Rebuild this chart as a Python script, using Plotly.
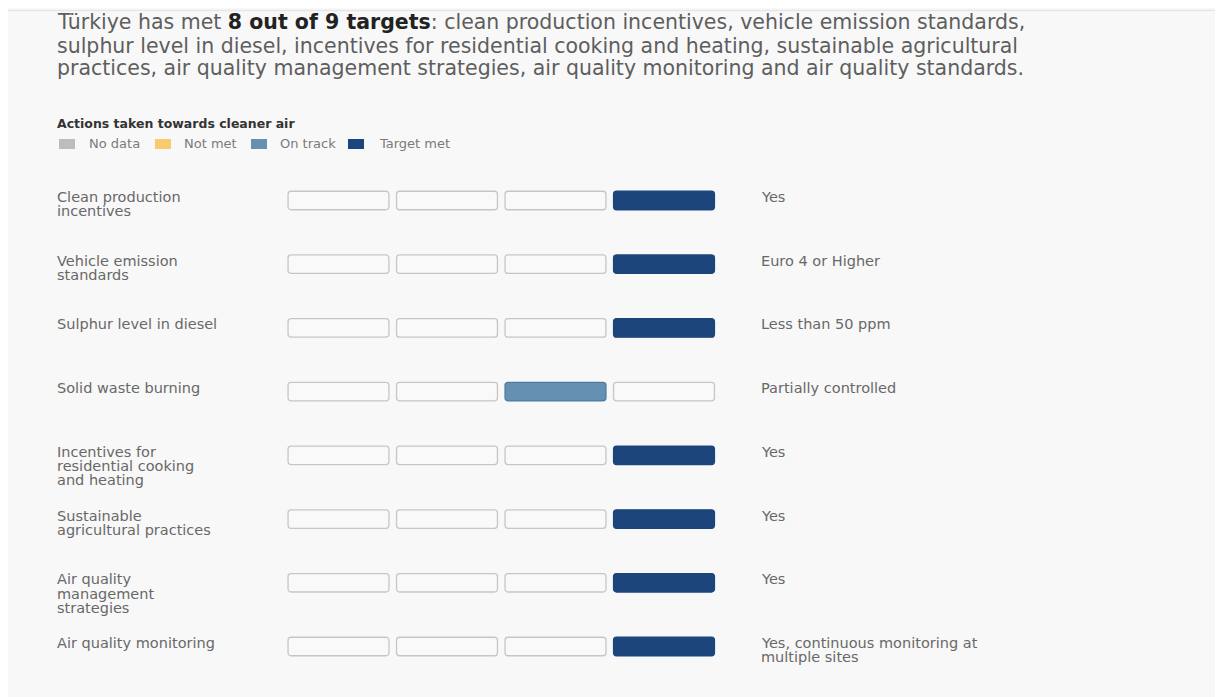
import plotly.graph_objects as go

W, H = 1230, 697

# ---------------- data ----------------
title_lines = [
    "Türkiye has met <span style='color:#222'><b>8 out of 9 targets</b></span>: clean production incentives, vehicle emission standards,",
    "sulphur level in diesel, incentives for residential cooking and heating, sustainable agricultural",
    "practices, air quality management strategies, air quality monitoring and air quality standards.",
]
chart_heading = "Actions taken towards cleaner air"
levels = ["No data", "Not met", "On track", "Target met"]
level_colors = ["#bdbdbd", "#f7cb6e", "#6590b2", "#1c467b"]
rows = [
    "Clean production incentives",
    "Vehicle emission standards",
    "Sulphur level in diesel",
    "Solid waste burning",
    "Incentives for residential cooking and heating",
    "Sustainable agricultural practices",
    "Air quality management strategies",
    "Air quality monitoring",
]
row_label_lines = [
    ["Clean production", "incentives"],
    ["Vehicle emission", "standards"],
    ["Sulphur level in diesel"],
    ["Solid waste burning"],
    ["Incentives for", "residential cooking", "and heating"],
    ["Sustainable", "agricultural practices"],
    ["Air quality", "management", "strategies"],
    ["Air quality monitoring"],
]
status = ["Target met", "Target met", "Target met", "On track",
          "Target met", "Target met", "Target met", "Target met"]
details = [
    ["Yes"],
    ["Euro 4 or Higher"],
    ["Less than 50 ppm"],
    ["Partially controlled"],
    ["Yes"],
    ["Yes"],
    ["Yes"],
    ["Yes, continuous monitoring at", "multiple sites"],
]

# ---------------- helpers ----------------
OFF = 8  # page body margin


def px(x):
    return (x - OFF) / W


def py(y):
    return 1 - (y - OFF) / H


FONT = "DejaVu Sans"
TXT = "#686868"
EMPTY_FILL = "#f9f9f9"
EMPTY_LINE = "#c6c6c6"

fig = go.Figure()

cell_w = 0.93
for j, lev in enumerate(levels):
    fills = [level_colors[j] if s == lev else EMPTY_FILL for s in status]
    lines = [("#4f7aa0" if lev == "On track" else level_colors[j]) if s == lev else EMPTY_LINE
             for s in status]
    fig.add_trace(go.Bar(
        orientation="h",
        y=rows,
        x=[cell_w] * len(rows),
        base=[j + (1 - cell_w) / 2] * len(rows),
        width=0.29,
        marker=dict(color=fills, line=dict(color=lines, width=1.3)),
        name=lev,
        showlegend=False,
        hoverinfo="skip",
    ))

annotations = []
# title
for k, t in enumerate(title_lines):
    annotations.append(dict(
        x=px(55), y=py(22.5 + 23 * k), xref="paper", yref="paper",
        xanchor="left", yanchor="middle", showarrow=False, text=t,
        font=dict(family=FONT, size=20.5, color="#5e5e5e"),
    ))
annotations.append(dict(
    x=px(55), y=py(123.5), xref="paper", yref="paper",
    xanchor="left", yanchor="middle", showarrow=False,
    text="<b>" + chart_heading + "</b>",
    font=dict(family=FONT, size=12.5, color="#333333"),
))

# legend (manual)
leg_sw_x = [59, 155, 251, 348]
leg_tx_x = [87, 182, 278, 377]
shapes = [
    dict(type="line", xref="paper", yref="paper", x0=0, x1=1, y0=py(10.5), y1=py(10.5),
         line=dict(color="#e6e6e6", width=1.5), layer="below"),
]
for k, lev in enumerate(levels):
    shapes.append(dict(type="rect", xref="paper", yref="paper",
                       x0=px(leg_sw_x[k]), x1=px(leg_sw_x[k] + 16),
                       y0=py(149), y1=py(139),
                       fillcolor=level_colors[k], line=dict(width=0)))
    annotations.append(dict(
        x=px(leg_tx_x[k]), y=py(144), xref="paper", yref="paper",
        xanchor="left", yanchor="middle", showarrow=False, text=lev,
        font=dict(family=FONT, size=13, color="#7a7a7a"),
    ))

# row labels and detail text
LINE_H = 14.3
for r, name in enumerate(rows):
    for k, ln in enumerate(row_label_lines[r]):
        annotations.append(dict(
            x=px(55), y=name, xref="paper", yref="y",
            xanchor="left", yanchor="middle", yshift=3.5 - LINE_H * k,
            showarrow=False, text=ln,
            font=dict(family=FONT, size=14.5, color=TXT),
        ))
    for k, ln in enumerate(details[r]):
        annotations.append(dict(
            x=px(759), y=name, xref="paper", yref="y",
            xanchor="left", yanchor="middle", yshift=3.5 - LINE_H * k,
            showarrow=False, text=ln,
            font=dict(family=FONT, size=14.5, color=TXT),
        ))

pitch = (646.5 - 200.5) / 7
y_top = 200.5 - pitch / 2
y_bot = 646.5 + pitch / 2

fig.update_layout(
    width=W, height=H,
    margin=dict(l=0, r=0, t=0, b=0),
    paper_bgcolor="#f8f8f8",
    plot_bgcolor="rgba(0,0,0,0)",
    barmode="overlay",
    barcornerradius=3,
    xaxis=dict(range=[0, 4], domain=[px(284.25), px(718.25)], visible=False, fixedrange=True),
    yaxis=dict(type="category", categoryorder="array", categoryarray=rows,
               range=[len(rows) - 0.5, -0.5],
               domain=[py(y_bot), py(y_top)], visible=False, fixedrange=True),
    annotations=annotations,
    shapes=shapes,
    showlegend=False,
)

fig.write_html("out.html", config={"displayModeBar": False})
